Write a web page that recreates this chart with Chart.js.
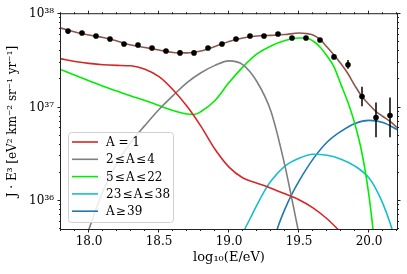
<!DOCTYPE html>
<html><head><meta charset="utf-8">
<script src="https://cdn.jsdelivr.net/npm/chart.js@4/dist/chart.umd.min.js"></script>
<style>html,body{margin:0;padding:0;background:#fff}#wrap{width:407px;height:274px;position:relative}</style>
</head><body><div id="wrap"><canvas id="c"></canvas></div>
<script>
// ---- measured data points (log10 E, J*E^3)
const dataE = [17.85,17.95,18.05,18.15,18.25,18.35,18.45,18.55,18.65,18.75,18.85,18.95,19.05,19.15,19.25,19.35,19.45,19.55,19.65,19.75,19.85,19.95,20.05,20.15];
const dataJ = [6.59e37,6.28e37,5.84e37,5.42e37,4.80e37,4.68e37,4.35e37,4.04e37,3.85e37,3.85e37,4.35e37,4.80e37,5.42e37,5.84e37,5.84e37,6.13e37,5.56e37,5.56e37,5.29e37,3.49e37,2.87e37,1.31e37,7.83e36,8.22e36];
const errLow  = [null,null,null,null,null,null,null,null,null,null,null,null,null,null,null,null,null,null,null,3.34e37,2.60e37,1.03e37,4.80e36,4.80e36];
const errHigh = [null,null,null,null,null,null,null,null,null,null,null,null,null,null,null,null,null,null,null,3.65e37,3.24e37,1.67e37,1.13e37,1.28e37];

// ---- total fit
const totalE = [17.8,17.9,18.0,18.1,18.2,18.3,18.4,18.5,18.6,18.7,18.8,18.9,19.0,19.1,19.2,19.3,19.4,19.5,19.55,19.6,19.65,19.7,19.75,19.8,19.85,19.9,19.95,20.0,20.05,20.1,20.15,20.2];
const totalJ = [7.10e37,6.44e37,5.98e37,5.63e37,5.16e37,4.68e37,4.40e37,4.14e37,3.89e37,3.85e37,4.04e37,4.51e37,5.10e37,5.56e37,5.84e37,5.93e37,6.05e37,6.28e37,6.21e37,5.98e37,5.36e37,4.46e37,3.66e37,2.94e37,2.30e37,1.71e37,1.31e37,1.08e37,9.06e36,8.02e36,7.10e36,6.12e36];

// ---- mass groups
const a1E = [17.8,17.9,18.0,18.1,18.2,18.3,18.4,18.5,18.6,18.7,18.8,18.9,19.0,19.1,19.2,19.3,19.4,19.5,19.6,19.7,19.8];
const a1J = [3.32e37,3.12e37,2.97e37,2.87e37,2.83e37,2.80e37,2.57e37,2.14e37,1.55e37,1.03e37,6.28e36,3.57e36,2.30e36,1.76e36,1.55e36,1.37e36,1.19e36,1.03e36,8.43e35,6.44e35,4.6e35];

const a2E = [18.0,18.1,18.2,18.3,18.4,18.5,18.6,18.7,18.8,18.9,19.0,19.1,19.2,19.3,19.4,19.45,19.5];
const a2J = [5.0e35,1.28e36,2.54e36,4.25e36,6.44e36,9.53e36,1.34e37,1.85e37,2.36e37,2.83e37,3.16e37,2.87e37,1.89e37,9.06e36,2.36e36,1.03e36,4.4e35];

const a5E = [17.8,17.9,18.0,18.1,18.2,18.3,18.4,18.5,18.6,18.7,18.75,18.8,18.9,19.0,19.1,19.2,19.3,19.4,19.5,19.55,19.6,19.65,19.7,19.75,19.8,19.85,19.9,19.95,20.0,20.05];
const a5J = [2.54e37,2.22e37,1.94e37,1.69e37,1.50e37,1.33e37,1.19e37,1.05e37,9.29e36,8.53e36,8.43e36,9.06e36,1.19e37,1.85e37,2.73e37,3.75e37,4.57e37,5.23e37,5.56e37,5.56e37,5.16e37,4.46e37,3.57e37,2.73e37,1.76e37,1.13e37,6.59e36,3.24e36,1.13e36,2.6e35];

const a23E = [19.1,19.15,19.2,19.25,19.3,19.4,19.5,19.6,19.7,19.8,19.9,20.0,20.05,20.1,20.15,20.2];
const a23J = [4.57e35,6.44e35,9.06e35,1.25e36,1.63e36,2.36e36,2.86e36,3.16e36,3.08e36,2.80e36,2.36e36,1.76e36,1.34e36,9.29e35,5.83e35,3.3e35];

const a39E = [19.3,19.35,19.4,19.45,19.5,19.6,19.7,19.8,19.9,20.0,20.1,20.2];
const a39J = [2.9e35,5.28e35,8.22e35,1.19e36,1.63e36,2.80e36,4.25e36,5.56e36,6.76e36,7.28e36,6.92e36,5.83e36];

// ---- axes
const xTicks = [18.0,18.5,19.0,19.5,20.0];
const yTicks = [1e36,1e37,1e38];
const yTickLabels = ['10³⁶','10³⁷','10³⁸'];
const xTitle = 'log₁₀(E/eV)';
const yTitle = 'J · E³ [eV² km⁻² sr⁻¹ yr⁻¹]';
const groupLabels = ['A = 1','2\u200a≤\u200aA\u200a≤\u200a4','5\u200a≤\u200aA\u200a≤\u200a22','23\u200a≤\u200aA\u200a≤\u200a38','A\u200a≥\u200a39'];
const groupColors = ['#d62728','#7f7f7f','#00ee00','#17becf','#1f77b4'];

const FONT = '"DejaVu Serif", serif';
const zip = (xs, ys) => xs.map((v, i) => ({x: v, y: ys[i]}));

function curve(label, xs, ys, color) {
  return {label, data: zip(xs, ys), showLine: true, borderColor: color, backgroundColor: color,
          borderWidth: 1.6, pointRadius: 0, cubicInterpolationMode: 'monotone', clip: 0};
}

const overlay = {
  id: 'overlay',
  afterDatasetsDraw(chart) {
    const {ctx, chartArea: a, scales: {x, y}} = chart;
    ctx.save();
    // error bars
    ctx.strokeStyle = '#000'; ctx.lineWidth = 1.5;
    ctx.beginPath();
    dataE.forEach((e, i) => {
      if (errLow[i] == null) return;
      const px = x.getPixelForValue(e);
      ctx.moveTo(px, y.getPixelForValue(errLow[i]));
      ctx.lineTo(px, y.getPixelForValue(errHigh[i]));
    });
    ctx.stroke();
    // legend box
    const bx = a.left + 7, bw = 105, bh = 90, by = a.bottom - 7 - bh;
    ctx.beginPath();
    ctx.roundRect(bx + 0.5, by + 0.5, bw, bh, 3);
    ctx.fillStyle = 'rgba(255,255,255,0.85)'; ctx.fill();
    ctx.strokeStyle = '#d0d0d0'; ctx.lineWidth = 1; ctx.stroke();
    ctx.font = '12px ' + FONT; ctx.textBaseline = 'middle'; ctx.textAlign = 'left';
    const comps = chart.data.datasets.slice(2);
    comps.forEach((ds, i) => {
      const ry = by + 10 + i * 17.3;
      ctx.strokeStyle = ds.borderColor; ctx.lineWidth = 1.6;
      ctx.beginPath(); ctx.moveTo(bx + 4, ry); ctx.lineTo(bx + 30, ry); ctx.stroke();
      ctx.fillStyle = '#000';
      ctx.fillText(ds.label, bx + 38, ry + 1);
    });
    ctx.restore();
  },
  afterDraw(chart) {
    const {ctx, chartArea: a, scales: {x, y}} = chart;
    ctx.save();
    ctx.strokeStyle = '#222'; ctx.lineWidth = 1;
    ctx.strokeRect(a.left - 0.5, a.top - 0.5, a.right - a.left + 1, a.bottom - a.top + 1);
    ctx.beginPath();
    // x ticks (major every 0.5, minor every 0.1)
    for (let k = Math.ceil(x.min * 10 - 1e-6); k <= Math.floor(x.max * 10 + 1e-6); k++) {
      const px = Math.round(x.getPixelForValue(k / 10)) - 0.5;
      const len = (k % 5 === 0) ? 3.5 : 2;
      ctx.moveTo(px, a.bottom); ctx.lineTo(px, a.bottom + len);
      ctx.moveTo(px, a.top); ctx.lineTo(px, a.top - len);
    }
    // y ticks (log major/minor)
    for (let n = Math.floor(Math.log10(y.min)); n <= Math.ceil(Math.log10(y.max)); n++) {
      for (let m = 1; m <= 9; m++) {
        const v = m * Math.pow(10, n);
        if (v < y.min * 0.999 || v > y.max * 1.001) continue;
        const py = Math.round(y.getPixelForValue(v)) - 0.5;
        const len = (m === 1) ? 3.5 : 2;
        ctx.moveTo(a.left, py); ctx.lineTo(a.left - len, py);
        ctx.moveTo(a.right, py); ctx.lineTo(a.right + len, py);
      }
    }
    ctx.stroke();
    ctx.restore();
  }
};

Chart.defaults.font.family = FONT;
Chart.defaults.color = '#000';

new Chart(document.getElementById('c'), {
  type: 'scatter',
  data: {
    datasets: [
      {label: 'data', data: zip(dataE, dataJ), pointRadius: 2.8, pointHoverRadius: 2.8,
       backgroundColor: '#000', borderWidth: 0, showLine: false},
      curve('total', totalE, totalJ, '#8c564b'),
      curve(groupLabels[0], a1E, a1J, groupColors[0]),
      curve(groupLabels[1], a2E, a2J, groupColors[1]),
      curve(groupLabels[2], a5E, a5J, groupColors[2]),
      curve(groupLabels[3], a23E, a23J, groupColors[3]),
      curve(groupLabels[4], a39E, a39J, groupColors[4])
    ]
  },
  options: {
    animation: false, responsive: true, maintainAspectRatio: false,
    layout: {padding: {left: 0, top: 12, right: 10, bottom: 0}},
    plugins: {legend: {display: false}, tooltip: {enabled: false}},
    scales: {
      x: {type: 'linear', min: 17.8, max: 20.2,
          afterBuildTicks: s => { s.ticks = xTicks.map(v => ({value: v})); },
          afterFit: s => { s.height = 45; },
          grid: {display: false, drawTicks: false}, border: {display: false},
          ticks: {callback: v => Number(v).toFixed(1), padding: 6, font: {size: 12}, color: '#000', autoSkip: false, maxRotation: 0},
          title: {display: true, text: xTitle, font: {size: 13}, color: '#000', padding: {top: 0, bottom: 9}}},
      y: {type: 'logarithmic', min: 5e35, max: 1e38,
          afterBuildTicks: s => { s.ticks = yTicks.map(v => ({value: v})); },
          afterFit: s => { s.width = 61; },
          grid: {display: false, drawTicks: false}, border: {display: false},
          ticks: {callback: (v, i) => yTickLabels[i], padding: 7, font: {size: 12}, color: '#000', autoSkip: false},
          title: {display: true, text: yTitle, font: {size: 12}, color: '#000', padding: {top: 6, bottom: 0}}}
    }
  },
  plugins: [overlay]
});
</script>
</body></html>
